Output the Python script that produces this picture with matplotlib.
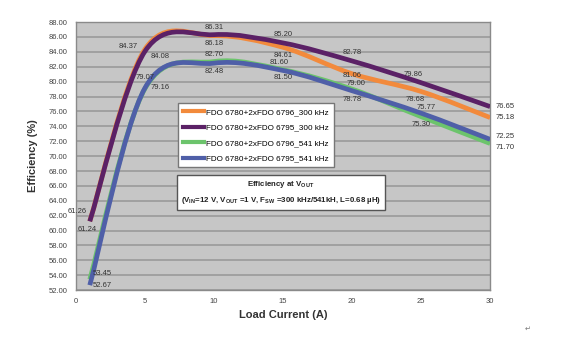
#import libraries
import matplotlib
matplotlib.use('Agg')
import matplotlib.pyplot as plt
from matplotlib.path import Path
from matplotlib.patches import PathPatch
from matplotlib.lines import Line2D

plt.rcParams['font.family'] = ['Liberation Sans', 'DejaVu Sans']
plt.rcParams['mathtext.default'] = 'regular'

#define data
load_current = [1, 5, 10, 15, 20, 25, 30]
eff_6796_300 = [61.26, 84.37, 86.18, 84.61, 81.06, 78.68, 75.18]
eff_6795_300 = [61.24, 84.08, 86.31, 85.20, 82.78, 79.86, 76.65]
eff_6796_541 = [53.45, 79.07, 82.70, 81.60, 79.00, 75.30, 71.70]
eff_6795_541 = [52.67, 79.16, 82.48, 81.50, 78.78, 75.77, 72.25]
series_names = ['FDO 6780+2xFDO 6796_300 kHz', 'FDO 6780+2xFDO 6795_300 kHz',
                'FDO 6780+2xFDO 6796_541 kHz', 'FDO 6780+2xFDO 6795_541 kHz']
y_ticks = [52 + 2 * i for i in range(19)]
x_ticks = [0, 5, 10, 15, 20, 25, 30]

colors = ['#f28a3c', '#5b2166', '#6cc46c', '#4f5fa8']
# label offsets (points) for each data point of each series
offsets = [
    [(-9, 7), (-12, 2), (0, -6), (0, -6), (0, -1), (-4, -6), (4, 0)],
    [(-2, -6), (11, -4), (0, 5), (0, 6), (0, 6), (-6, 6), (4, 0)],
    [(9, 4), (0, 8), (0, 5), (-3, 5), (3, 4), (0, -6), (4, -3)],
    [(9, 0), (11, 0), (0, -6), (0, -5), (0, -6), (4, 4), (4, 2)],
]

def smooth_path(xs, ys):
    # Excel style smoothed line (bezier through the points)
    pts = list(zip(xs, ys))
    verts = [pts[0]]
    codes = [Path.MOVETO]
    n = len(pts)
    for i in range(n - 1):
        p0 = pts[i - 1] if i > 0 else pts[i]
        p1 = pts[i]
        p2 = pts[i + 1]
        p3 = pts[i + 2] if i + 2 < n else pts[i + 1]
        c1 = (p1[0] + (p2[0] - p0[0]) / 6, p1[1] + (p2[1] - p0[1]) / 6)
        c2 = (p2[0] - (p3[0] - p1[0]) / 6, p2[1] - (p3[1] - p1[1]) / 6)
        verts += [c1, c2, p2]
        codes += [Path.CURVE4] * 3
    return Path(verts, codes)

fig = plt.figure(figsize=(5.8, 3.45), dpi=100)
ax = fig.add_axes([0.131, 0.159, 0.714, 0.777])
ax.set_facecolor('#c6c6c6')

all_series = [eff_6796_300, eff_6795_300, eff_6796_541, eff_6795_541]
for k, ys in enumerate(all_series):
    patch = PathPatch(smooth_path(load_current, ys), facecolor='none',
                      edgecolor=colors[k], lw=3.4, zorder=3 + (k == 1))
    ax.add_patch(patch)
    for j, (x, y) in enumerate(zip(load_current, ys)):
        dx, dy = offsets[k][j]
        ha = 'left' if j == len(ys) - 1 else 'center'
        ax.annotate(f'{y:.2f}', (x, y), xytext=(dx, dy), textcoords='offset points',
                    ha=ha, va='center', fontsize=5.5, color='#333333', zorder=6)

ax.set_xlim(0, 30)
ax.set_ylim(52, 88)
ax.set_xticks(x_ticks)
ax.set_yticks(y_ticks)
ax.set_yticklabels([f'{v:.2f}' for v in y_ticks])
ax.tick_params(length=0, labelsize=5.5, labelcolor='#444444', pad=6)
ax.grid(axis='y', color='#9a9a9a', lw=1.2)
ax.set_axisbelow(True)
for s in ax.spines.values():
    s.set_color('#8a8a8a')
    s.set_linewidth(1)

ax.set_xlabel('Load Current (A)', fontsize=8, fontweight='bold', color='#333333', labelpad=3)
ax.set_ylabel('Efficiency (%)', fontsize=8, fontweight='bold', color='#333333', labelpad=8)

#legend
handles = [Line2D([], [], color=c, lw=3) for c in colors]
leg = ax.legend(handles, series_names, loc='upper left', bbox_to_anchor=(0.247, 0.697),
                fontsize=5.9, frameon=True, fancybox=False, handlelength=2.5,
                borderpad=0.6, labelspacing=0.95, handletextpad=0.3, borderaxespad=0)
leg.get_frame().set_edgecolor('#777777')
leg.get_frame().set_facecolor('white')
leg.get_frame().set_alpha(1)

#condition box
ax.text(0.495, 0.364, 'Efficiency at V$_{OUT}$\n'
        '(V$_{IN}$=12 V, V$_{OUT}$ =1 V, F$_{SW}$ =300 kHz/541kH, L=0.68 µH)',
        transform=ax.transAxes, ha='center', va='center', fontsize=5.7,
        fontweight='bold', color='#222222', linespacing=1.7, zorder=7,
        bbox=dict(boxstyle='square,pad=0.55', facecolor='white', edgecolor='#555555', lw=1))

fig.text(0.905, 0.04, '\u21b5', fontsize=5, color='#777777')

plt.savefig('out.png', dpi=100)
